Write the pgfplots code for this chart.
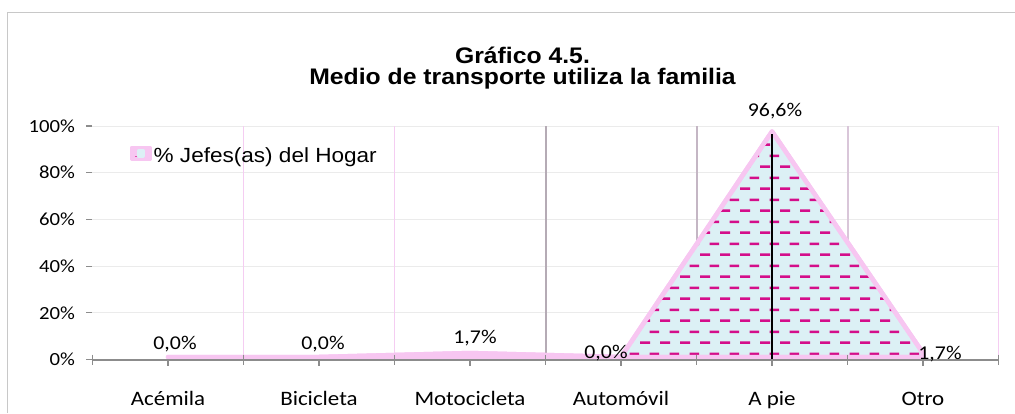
\documentclass[border=0pt]{standalone}
\usepackage{fontspec}
\setmainfont{Carlito}[FakeStretch=1.12]
\newfontfamily\arialf{Liberation Sans}[FakeStretch=1.1]
\usepackage{pgfplots}
\pgfplotsset{compat=1.18}
\usetikzlibrary{patterns.meta}

\definecolor{pinkline}{HTML}{F7C6F1}
\definecolor{dashc}{HTML}{D40E8A}
\definecolor{bgblue}{HTML}{DCF0F5}
\definecolor{gridh}{HTML}{EBEBEB}
\definecolor{axisgray}{HTML}{8C8C8C}
\definecolor{bordergray}{HTML}{C8C8C8}
\definecolor{gpink}{HTML}{F5CDF2}
\definecolor{gA}{HTML}{B5ABB5}
\definecolor{gB}{HTML}{C4B6C4}
\definecolor{gC}{HTML}{D9C6D9}

\tikzdeclarepattern{
  name=xldash,
  type=uncolored,
  bottom left={(0pt,0pt)},
  top right={(20pt,21.8pt)},
  tile size={(20pt,21.8pt)},
  code={
    \pgfsetlinewidth{2.5pt}
    \pgfpathmoveto{\pgfpoint{0pt}{5.45pt}}
    \pgfpathlineto{\pgfpoint{10.5pt}{5.45pt}}
    \pgfpathmoveto{\pgfpoint{10pt}{16.35pt}}
    \pgfpathlineto{\pgfpoint{20pt}{16.35pt}}
    \pgfusepath{stroke}
  }
}

\begin{document}
\begin{tikzpicture}
\useasboundingbox (0pt,0pt) rectangle (1015pt,413pt);
\draw[bordergray, line width=1pt] (7pt,0pt) -- (7pt,400pt) -- (1015pt,400pt);
\node[anchor=base, font=\arialf\bfseries\fontsize{22.5}{27}\selectfont] at (522.5pt,349.7pt) {Gráfico 4.5.};
\node[anchor=base, font=\arialf\bfseries\fontsize{22.5}{27}\selectfont] at (522.5pt,328pt) {Medio de transporte utiliza la familia};
\begin{axis}[
  at={(92.5pt,53.5pt)}, anchor=south west,
  scale only axis, width=906pt, height=233.5pt,
  xmin=-0.5, xmax=5.5, ymin=0, ymax=100,
  clip=false,
  axis line style={draw=none},
  xtick={0,1,2,3,4,5},
  xticklabels={Acémila,Bicicleta,Motocicleta,Automóvil,A pie,Otro},
  xtick style={draw=none},
  xticklabel style={anchor=base, yshift=-39.5pt, font=\fontsize{20.5}{24}\selectfont},
  ytick={0,20,40,60,80,100},
  yticklabels={0\%,20\%,40\%,60\%,80\%,100\%},
  ytick pos=left,
  ytick style={axisgray, line width=1.2pt},
  tick align=outside,
  major tick length=6pt,
  yticklabel style={xshift=-8pt, font=\fontsize{18.5}{22}\selectfont},
  ymajorgrids,
  grid style={gridh, line width=1pt},
  legend style={at={(0.0414,0.8715)}, anchor=west, draw=none, fill=none, inner sep=0pt,
    font=\arialf\fontsize{20.5}{24}\selectfont},
  legend cell align=left,
]
% vertical gridlines at category boundaries
\draw[gpink, line width=1pt] (axis cs:0.5,0) -- (axis cs:0.5,100);
\draw[gpink, line width=1pt] (axis cs:1.5,0) -- (axis cs:1.5,100);
\draw[gA, line width=2pt] (axis cs:2.5,0) -- (axis cs:2.5,100);
\draw[gB, line width=2pt] (axis cs:3.5,0) -- (axis cs:3.5,100);
\draw[gC, line width=2pt] (axis cs:4.5,0) -- (axis cs:4.5,100);
\draw[gpink, line width=1.5pt] (axis cs:5.5,0) -- (axis cs:5.5,100);

\addplot[draw=pinkline, line width=4.5pt, line join=round, fill=bgblue, yshift=2.5pt,
  postaction={pattern={xldash}, pattern color=dashc},
  legend image code/.code={
    \fill[pinkline] (0pt,-5pt) rectangle (17pt,6pt);
    \fill[bgblue] (6.5pt,-1.5pt) rectangle (10.5pt,2.5pt);}]
  coordinates {(0,0) (1,0) (2,1.7) (3,0) (4,96.6) (5,1.7)} \closedcycle;
\addlegendentry{\% Jefes(as) del Hogar}

\addplot[black, line width=1.8pt, forget plot] coordinates {(4,0) (4,96.6)};

\draw[axisgray, line width=2pt] (axis cs:-0.5,0) -- (axis cs:5.5,0);
\pgfplotsinvokeforeach{-0.5,0.5,1.5,2.5,3.5,4.5,5.5}{
  \draw[axisgray, line width=1.2pt] (axis cs:#1,0) ++(0pt,5pt) -- ++(0pt,-10pt);
}
\pgfplotsinvokeforeach{0,1,2,3,4,5}{
  \draw[axisgray, line width=1.2pt] (axis cs:#1,0) -- ++(0pt,-6pt);
}

\node[anchor=base, font=\fontsize{19.5}{23}\selectfont] at (axis cs:0,0) [xshift=7pt, yshift=10.5pt] {0,0\%};
\node[anchor=base, font=\fontsize{19.5}{23}\selectfont] at (axis cs:1,0) [xshift=4pt, yshift=10.5pt] {0,0\%};
\node[anchor=base, font=\fontsize{19.5}{23}\selectfont] at (axis cs:2,1.7) [xshift=5pt, yshift=12.5pt] {1,7\%};
\node[anchor=base, font=\fontsize{19.5}{23}\selectfont] at (axis cs:3,0) [xshift=-15pt, yshift=1pt] {0,0\%};
\node[anchor=base, font=\fontsize{19.5}{23}\selectfont] at (axis cs:4,96.6) [xshift=3pt, yshift=17pt] {96,6\%};
\node[anchor=base, font=\fontsize{19.5}{23}\selectfont] at (axis cs:5,1.7) [xshift=17pt, yshift=-3.8pt] {1,7\%};
\end{axis}
\end{tikzpicture}
\end{document}
